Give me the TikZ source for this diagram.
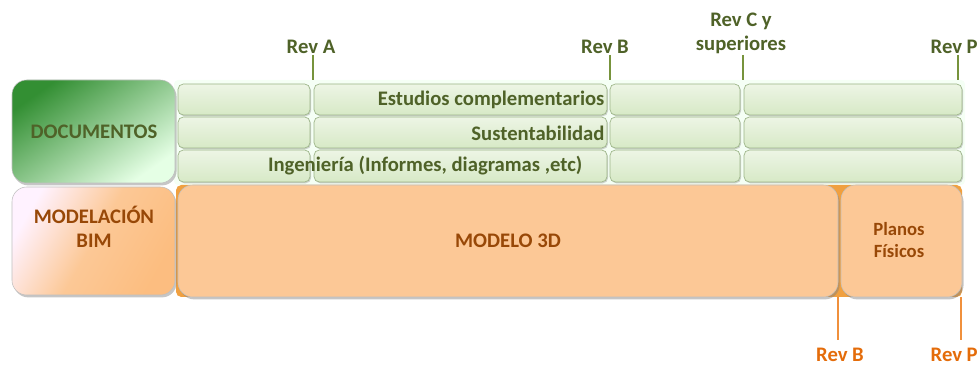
\documentclass[tikz,border=0pt]{standalone}
\usepackage{fontspec}
\setmainfont{Carlito}
\usetikzlibrary{shadows}
\definecolor{docgreen}{HTML}{4F6228}
\definecolor{tickgreen}{HTML}{77933C}
\definecolor{stripgreen}{HTML}{D7E9C6}
\definecolor{stripedge}{HTML}{9CB487}
\definecolor{bimbrown}{HTML}{984807}
\definecolor{bimpeach}{HTML}{FCC896}
\definecolor{bimorange}{HTML}{F0A040}
\definecolor{tickorange}{HTML}{F0903C}
\definecolor{revorange}{HTML}{E46C0A}

\begin{document}
\begin{tikzpicture}[x=0.75pt,y=-0.75pt,
    strip/.style={draw=stripedge,line width=0.5pt,rounded corners=4pt,
        top color=stripgreen!45,bottom color=stripgreen,
        drop shadow={shadow xshift=0.8pt,shadow yshift=-1pt,opacity=0.35}},
    bigbox/.style={rounded corners=11pt,draw=black!25,line width=0.4pt,
        drop shadow={shadow xshift=1.2pt,shadow yshift=-1.8pt,opacity=0.45}},
    doclabel/.style={text=docgreen,font=\bfseries\fontsize{15.5}{18}\selectfont,inner sep=1pt},
    bimlabel/.style={text=bimbrown,font=\bfseries\fontsize{15.5}{18}\selectfont,align=center,inner sep=0pt},
    revlabel/.style={text=docgreen,font=\bfseries\fontsize{15.5}{18}\selectfont,align=center,inner sep=0pt},
    revbottom/.style={text=revorange,font=\bfseries\fontsize{15.5}{18}\selectfont,inner sep=0pt},
    greentick/.style={tickgreen,line width=2.2pt},
    orangetick/.style={tickorange,line width=2.2pt}]
    \useasboundingbox (0,0) rectangle (979,367);
    \providecommand{\stripcols}{178/310,314/607,610/740,744/962}
    % background bars
    \fill[green!4!white,rounded corners=3pt] (174,80) rectangle (965,185);
    \fill[bimorange,rounded corners=4pt] (176,185) rectangle (962,297);
    % documentos
    \path[bigbox,top color=green!45!black!80,bottom color=green!10!white,shading angle=35] (12,80) rectangle (175,183);
    \node[doclabel] (docs) at (94,132) {DOCUMENTOS};
    % three strips of four
    \foreach \y/\h in {84/115,117/148,150/182} {
        \foreach \a/\b in \stripcols {
            \path[strip] (\a,\y) rectangle (\b,\h);
        }
    }
    \node[doclabel,anchor=east] (estudios) at (606,100) {Estudios complementarios};
    \node[doclabel,anchor=east] (susten) at (606,133) {Sustentabilidad};
    \node[doclabel,anchor=east] (ingen) at (584,166) {Ingeniería (Informes, diagramas ,etc)};
    % modelacion
    \path[bigbox,left color=white!95!magenta,right color=bimpeach!85!orange,middle color=bimpeach,shading angle=60] (12,187) rectangle (175,295);
    \node[bimlabel] (bim) at (94,227) {MODELACIÓN\\BIM};
    \path[bigbox,fill=bimpeach] (178,185) rectangle (838,297);
    \node[bimlabel] (modelo) at (508,241) {MODELO 3D};
    \path[bigbox,fill=bimpeach] (841,185) rectangle (962,297);
    \node[bimlabel,font=\bfseries\fontsize{14}{16.5}\selectfont] (planos) at (899,240) {Planos\\Físicos};
    % revisions above
    \node[revlabel,anchor=south] (revA) at (311,54) {Rev A};
    \node[revlabel,anchor=south] (revB) at (605,54) {Rev B};
    \node[revlabel,anchor=south] (revC) at (741,54) {Rev C y\\superiores};
    \node[revlabel,anchor=south east] (revP) at (978,54) {Rev P};
    \draw[greentick] (313,55) coordinate (tA) -- (313,80);
    \draw[greentick] (610,55) coordinate (tB) -- (610,80);
    \draw[greentick] (743,55) coordinate (tC) -- (743,80);
    \draw[greentick] (958,55) coordinate (tP) -- (958,80);
    % revisions below
    \node[revbottom,anchor=base] (rBb) at (840,361) {Rev B};
    \node[revbottom,anchor=base east] (rPb) at (978,361) {Rev P};
    \draw[orangetick] (838,297) -- (838,340);
    \draw[orangetick] (961,297) -- (961,340);
\end{tikzpicture}
\end{document}
